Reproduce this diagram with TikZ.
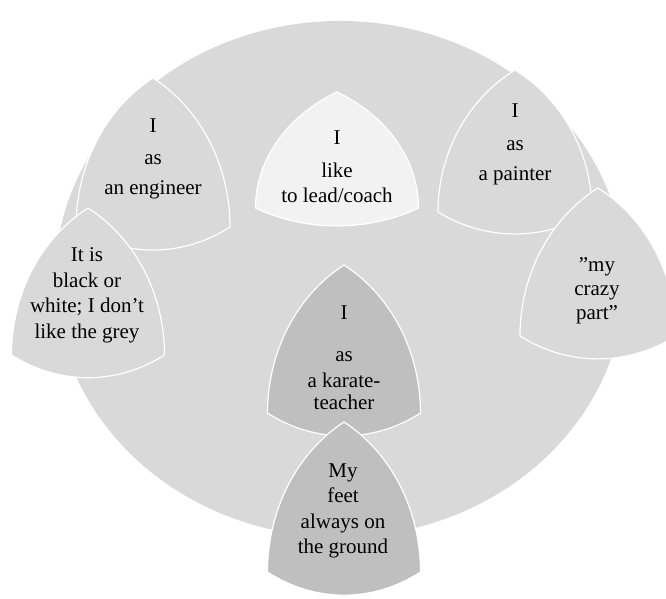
\documentclass[tikz,border=0pt]{standalone}
\usepackage{fontspec}
\setmainfont{Liberation Serif}
\definecolor{cmid}{HTML}{D9D9D9}
\definecolor{clight}{HTML}{F2F2F2}
\definecolor{cdark}{HTML}{BFBFBF}
\newcommand\reul[5]{%
  \begin{scope}[shift={(#1,{599-#2-#4})}, xscale=#3, yscale={#4/0.866}]
    \filldraw[fill=#5, petal] (-0.5,0) arc[start angle=240,end angle=300,radius=1]
      arc[start angle=0,end angle=60,radius=1]
      arc[start angle=120,end angle=180,radius=1] -- cycle;
  \end{scope}}
\begin{document}
\begin{tikzpicture}[x=0.5pt,y=0.5pt,
  txt/.style={font=\fontsize{10.5}{12.5}\selectfont, anchor=base, inner sep=0pt, text=black},
  petal/.style={draw=white, line width=0.6pt}]
\useasboundingbox (0,0) rectangle (666,599);
\fill[cmid] (340,320) ellipse [x radius=285, y radius=258];
% shapes
\reul{153}{78}{154}{149}{cmid}
\reul{337}{92}{163}{116}{clight}
\reul{515}{70}{154}{142}{cmid}
\reul{598}{188}{156}{148}{cmid}
\reul{88}{208}{153}{147}{cmid}
\reul{344}{265}{153}{148}{cdark}
\reul{344}{422}{153}{150}{cdark}
% engineer
\node[txt] (e1) at (153,466) {I};
\node[txt] (e2) at (153,434) {as};
\node[txt] (e3) at (153,404) {an engineer};
% lead
\node[txt] (l1) at (337,454) {I};
\node[txt] (l2) at (337,421) {like};
\node[txt] (l3) at (337,396) {to lead/coach};
% painter
\node[txt] (p1) at (515,481) {I};
\node[txt] (p2) at (515,448) {as};
\node[txt] (p3) at (515,418) {a painter};
% crazy
\node[txt] (c1) at (597,327) {”my};
\node[txt] (c2) at (597,303) {crazy};
\node[txt] (c3) at (597,279) {part”};
% black/white
\node[txt] (b1) at (87,337) {It is};
\node[txt] (b2) at (87,311) {black or};
\node[txt] (b3) at (87,286) {white; I don’t};
\node[txt] (b4) at (87,260) {like the grey};
% karate
\node[txt] (k1) at (344,279) {I};
\node[txt] (k2) at (344,237) {as};
\node[txt] (k3) at (344,211) {a karate-};
\node[txt] (k4) at (344,189) {teacher};
% feet
\node[txt] (f1) at (343,121) {My};
\node[txt] (f2) at (343,96) {feet};
\node[txt] (f3) at (343,70) {always on};
\node[txt] (f4) at (343,45) {the ground};
\end{tikzpicture}
\end{document}
